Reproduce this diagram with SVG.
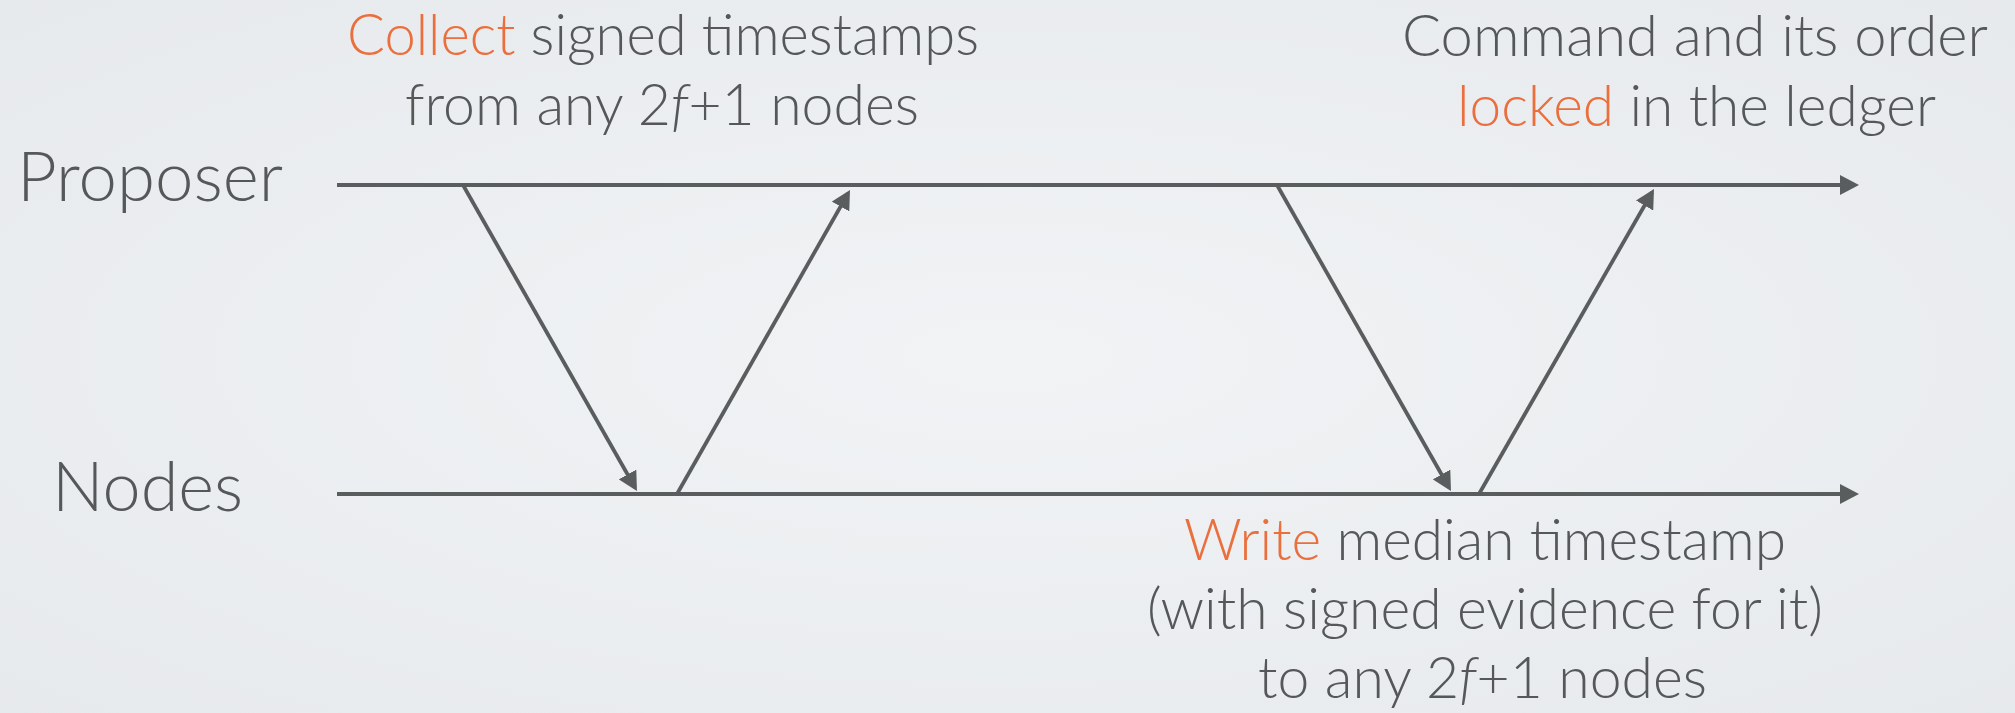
<svg xmlns="http://www.w3.org/2000/svg" width="2015" height="713" viewBox="0 0 2015 713">
<defs>
<radialGradient id="bg" cx="50%" cy="50%" r="75%">
<stop offset="0" stop-color="#f1f3f5"/>
<stop offset="1" stop-color="#e6e9ec"/>
</radialGradient>
<marker id="ah" markerUnits="userSpaceOnUse" markerWidth="19" markerHeight="20" viewBox="0 0 19 20" refX="15" refY="10" orient="auto">
<path d="M0,0 L19,10 L0,20 z" fill="#5a5d5d"/>
</marker>
<style>
.t{font-family:Lato,"Open Sans","Liberation Sans",sans-serif;font-weight:300;fill:#555759}
.lab{font-size:58px}
.big{font-size:68px}
.hl{fill:#ea6f3c}
.it{font-style:italic}
.tl{stroke:#5a5d5d;stroke-width:4.2;fill:none}
.msg{stroke:#5a5d5d;stroke-width:3.8;fill:none}
</style>
</defs>
<rect width="2015" height="713" fill="url(#bg)"/>
<g id="proposer">
<text class="t big" x="17" y="201" textLength="266" lengthAdjust="spacingAndGlyphs">Proposer</text>
</g>
<g id="nodes">
<text class="t big" x="52" y="511" textLength="191" lengthAdjust="spacingAndGlyphs">Nodes</text>
</g>
<g id="collect-label">
<text class="t lab" x="347" y="55" textLength="632" lengthAdjust="spacingAndGlyphs"><tspan class="hl">Collect</tspan> signed timestamps</text>
<text class="t lab" x="405" y="125" textLength="514" lengthAdjust="spacingAndGlyphs">from any 2<tspan class="it">f</tspan>+1 nodes</text>
</g>
<g id="locked-label">
<text class="t lab" x="1402" y="56" textLength="586" lengthAdjust="spacingAndGlyphs">Command and its order</text>
<text class="t lab" x="1457" y="126" textLength="479" lengthAdjust="spacingAndGlyphs"><tspan class="hl">locked</tspan> in the ledger</text>
</g>
<g id="write-label">
<text class="t lab" x="1184" y="560" textLength="602" lengthAdjust="spacingAndGlyphs"><tspan class="hl">Write</tspan> median timestamp</text>
<text class="t lab" x="1147" y="629" textLength="676" lengthAdjust="spacingAndGlyphs">(with signed evidence for it)</text>
<text class="t lab" x="1258" y="698" textLength="449" lengthAdjust="spacingAndGlyphs">to any 2<tspan class="it">f</tspan>+1 nodes</text>
</g>
<g id="connectors">
<line class="tl" x1="337" y1="185" x2="1855" y2="185" marker-end="url(#ah)"/>
<line class="tl" x1="337" y1="494" x2="1855" y2="494" marker-end="url(#ah)"/>
<line class="msg" x1="463" y1="185" x2="635" y2="487.5" marker-end="url(#ah)"/>
<line class="msg" x1="677" y1="494" x2="848" y2="193.5" marker-end="url(#ah)"/>
<line class="msg" x1="1277" y1="185" x2="1449" y2="487.5" marker-end="url(#ah)"/>
<line class="msg" x1="1479" y1="494" x2="1652" y2="192.5" marker-end="url(#ah)"/>
</g>
</svg>
